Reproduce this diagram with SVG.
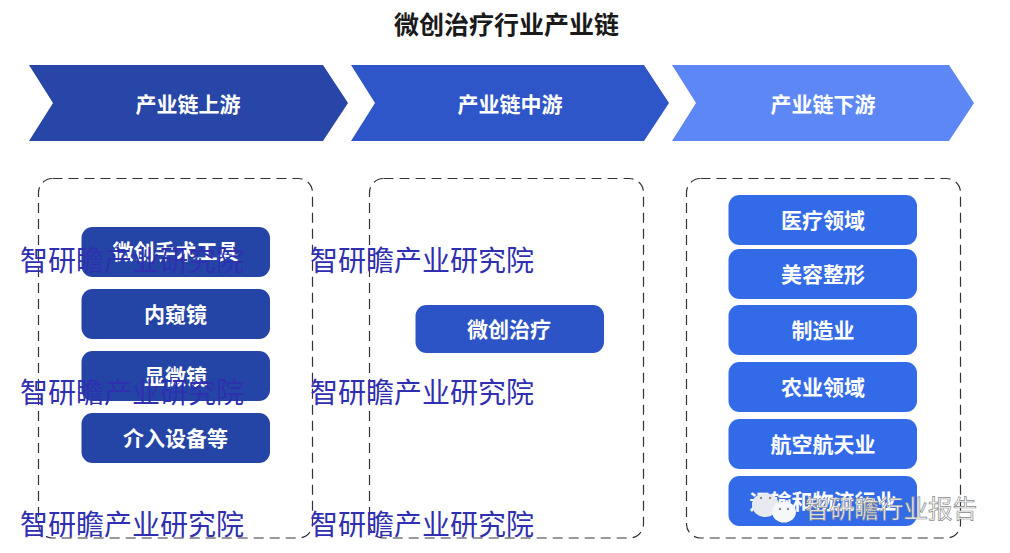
<svg xmlns="http://www.w3.org/2000/svg" width="1010" height="553" viewBox="0 0 1010 553">
<style>
text{font-family:"Noto Sans CJK SC","Liberation Sans",sans-serif;text-anchor:middle}
.t{font-size:21px;font-weight:700;fill:#fff}
.h{font-size:25px;font-weight:700;fill:#1a1a1a}
.box{fill:none;stroke:#33333f;stroke-width:1.2;stroke-dasharray:10 6}
.a rect{fill:#2545a6}.b rect{fill:#2c54c6}.c rect{fill:#336ae8}
.wm{font-size:28px;fill:#2f2fb0;text-anchor:start}
.wx{font-size:24.6px;fill:#fff;stroke:#8a8a8a;stroke-width:.7;text-anchor:start}
.eye{fill:#8a8a8a}
</style>
<text class="h" x="506.500" y="34">微创治疗行业产业链</text>
<g id="stage-up"><polygon points="29,65 323,65 348,103 323,141 29,141 53,103" fill="#2746a8"/><text class="t" x="188" y="112">产业链上游</text></g>
<g id="stage-mid"><polygon points="351,65 644,65 669,103 644,141 351,141 375,103" fill="#2e56c8"/><text class="t" x="510" y="112">产业链中游</text></g>
<g id="stage-down"><polygon points="672,65 949,65 974,103 949,141 672,141 696,103" fill="#5d87f5"/><text class="t" x="823" y="112">产业链下游</text></g>
<g id="frame-up"><rect class="box" x="38.500" y="178.500" width="274" height="359.500" rx="14"/></g>
<g id="frame-mid"><rect class="box" x="369.500" y="178.500" width="274" height="359.500" rx="14"/></g>
<g id="frame-down"><rect class="box" x="686.500" y="178.500" width="274" height="359.500" rx="14"/></g>
<g id="connectors"/>
<g id="n1" class="a"><rect x="81.500" y="227" width="188.500" height="50" rx="11"/><text class="t" x="175.500" y="259">微创手术工具</text></g>
<g id="n2" class="a"><rect x="81.500" y="289" width="188.500" height="50" rx="11"/><text class="t" x="175.500" y="322">内窥镜</text></g>
<g id="n3" class="a"><rect x="81.500" y="351" width="188.500" height="50" rx="11"/><text class="t" x="175.500" y="384">显微镜</text></g>
<g id="n4" class="a"><rect x="81.500" y="413" width="188.500" height="50" rx="11"/><text class="t" x="175.500" y="446">介入设备等</text></g>
<g id="n5" class="b"><rect x="415.500" y="305" width="188.500" height="48" rx="11"/><text class="t" x="509" y="337">微创治疗</text></g>
<g id="n6" class="c"><rect x="728.500" y="195" width="188.500" height="50" rx="11"/><text class="t" x="823" y="228">医疗领域</text></g>
<g id="n7" class="c"><rect x="728.500" y="249" width="188.500" height="50" rx="11"/><text class="t" x="823" y="282">美容整形</text></g>
<g id="n8" class="c"><rect x="728.500" y="305" width="188.500" height="50" rx="11"/><text class="t" x="823" y="338">制造业</text></g>
<g id="n9" class="c"><rect x="728.500" y="362" width="188.500" height="50" rx="11"/><text class="t" x="823" y="395">农业领域</text></g>
<g id="n10" class="c"><rect x="728.500" y="419" width="188.500" height="50" rx="11"/><text class="t" x="823" y="452">航空航天业</text></g>
<g id="n11" class="c"><rect x="728.500" y="476" width="188.500" height="50" rx="11"/><text class="t" x="823" y="509">运输和物流行业</text></g>
<g id="watermarks">
<text class="wm" x="20" y="271">智研瞻产业研究院</text>
<text class="wm" x="310" y="271">智研瞻产业研究院</text>
<text class="wm" x="20" y="402.500">智研瞻产业研究院</text>
<text class="wm" x="310" y="402.500">智研瞻产业研究院</text>
<text class="wm" x="20" y="535">智研瞻产业研究院</text>
<text class="wm" x="310" y="535">智研瞻产业研究院</text>
<ellipse cx="765" cy="505" rx="13" ry="12" fill="#e8eaf2"/>
<circle class="eye" cx="761" cy="498" r="1.200"/><circle class="eye" cx="770" cy="498" r="1.200"/>
<ellipse cx="784" cy="512" rx="12" ry="10.500" fill="#f6f7fa"/>
<circle class="eye" cx="780" cy="509" r="1.200"/><circle class="eye" cx="788" cy="509" r="1.200"/>
<text class="wx" x="805" y="518">智研瞻行业报告</text>
</g>
</svg>
